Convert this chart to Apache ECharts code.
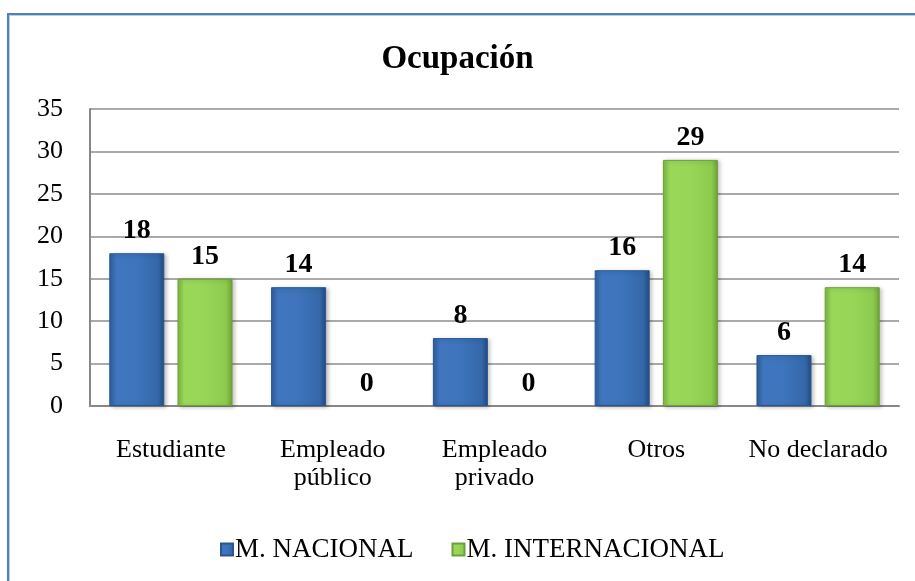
<!DOCTYPE html>
<html><head><meta charset="utf-8">
<script src="https://cdn.jsdelivr.net/npm/echarts@6/dist/echarts.min.js"></script>
<style>html,body{margin:0;padding:0;background:#fff;}#c{width:915px;height:581px;}
#frame{position:absolute;left:7px;top:13px;width:920px;height:600px;border-left:2px solid #4f81bd;border-top:2px solid #4f81bd;box-shadow:inset 1px 1px 0 #b8cce4;pointer-events:none;}</style>
</head><body><div id="c"></div><div id="frame"></div>
<script>
const categories = ['Estudiante', 'Empleado\npúblico', 'Empleado\nprivado', 'Otros', 'No declarado'];
const nacional = [18, 14, 8, 16, 6];
const internacional = [15, 0, 0, 29, 14];
const yTicks = [0, 35, 5];
const seriesNames = ['M. NACIONAL', 'M. INTERNACIONAL'];

const font = 'Liberation Serif, Times New Roman, serif';
const blueGrad = new echarts.graphic.LinearGradient(0,0,1,0,[
  {offset:0,color:'#2f5f9e'},{offset:0.12,color:'#3f76bf'},{offset:0.5,color:'#3d74bb'},{offset:0.88,color:'#3568aa'},{offset:1,color:'#234a80'}]);
const greenGrad = new echarts.graphic.LinearGradient(0,0,1,0,[
  {offset:0,color:'#7fb744'},{offset:0.12,color:'#9ad85a'},{offset:0.5,color:'#97d657'},{offset:0.88,color:'#8ccb4d'},{offset:1,color:'#6fa23a'}]);
const labelCfg = {show:true, position:'top', distance:8, fontFamily:font, fontWeight:'bold', fontSize:28, color:'#000'};
function items(arr){ return arr.map(v => v === 0 ? {value:v, itemStyle:{color:'rgba(0,0,0,0)', borderWidth:0, shadowBlur:0, shadowOffsetX:0, shadowOffsetY:0}} : v); }
const chart = echarts.init(document.getElementById('c'));
chart.setOption({
  animation:false,
  title:{text:'Ocupación', left:'center', top:38, textStyle:{fontFamily:font, fontWeight:'bold', fontSize:33, color:'#000'}},
  grid:{left:90, right:16, top:109, bottom:175, containLabel:false},
  legend:{bottom:13, left:215, itemWidth:12, itemHeight:12, itemGap:38, icon:'rect',
    textStyle:{fontFamily:font, fontSize:27, color:'#000', padding:[0,0,0,-3]},
    data:seriesNames},
  xAxis:{type:'category', data:categories,
    axisLine:{lineStyle:{color:'#888', width:2}}, axisTick:{show:false},
    axisLabel:{fontFamily:font, fontSize:26, color:'#000', margin:30, lineHeight:28, interval:0}},
  yAxis:{type:'value', min:yTicks[0], max:yTicks[1], interval:yTicks[2],
    axisLine:{show:true, lineStyle:{color:'#888', width:2}}, axisTick:{show:false},
    splitLine:{lineStyle:{color:'#8c8c8c', width:1.5}},
    axisLabel:{fontFamily:font, fontSize:26, color:'#000', margin:27}},
  series:[
    {name:seriesNames[0], type:'bar', data:items(nacional), barWidth:'34%', barGap:'24%',
     itemStyle:{color:blueGrad, borderColor:'#2a5690', borderWidth:1, shadowColor:'rgba(0,0,0,0.25)', shadowBlur:4, shadowOffsetX:2, shadowOffsetY:1},
     label:labelCfg},
    {name:seriesNames[1], type:'bar', data:items(internacional), barWidth:'34%',
     itemStyle:{color:greenGrad, borderColor:'#6e9f3a', borderWidth:1, shadowColor:'rgba(0,0,0,0.25)', shadowBlur:4, shadowOffsetX:2, shadowOffsetY:1},
     label:labelCfg}
  ]
});
</script></body></html>
